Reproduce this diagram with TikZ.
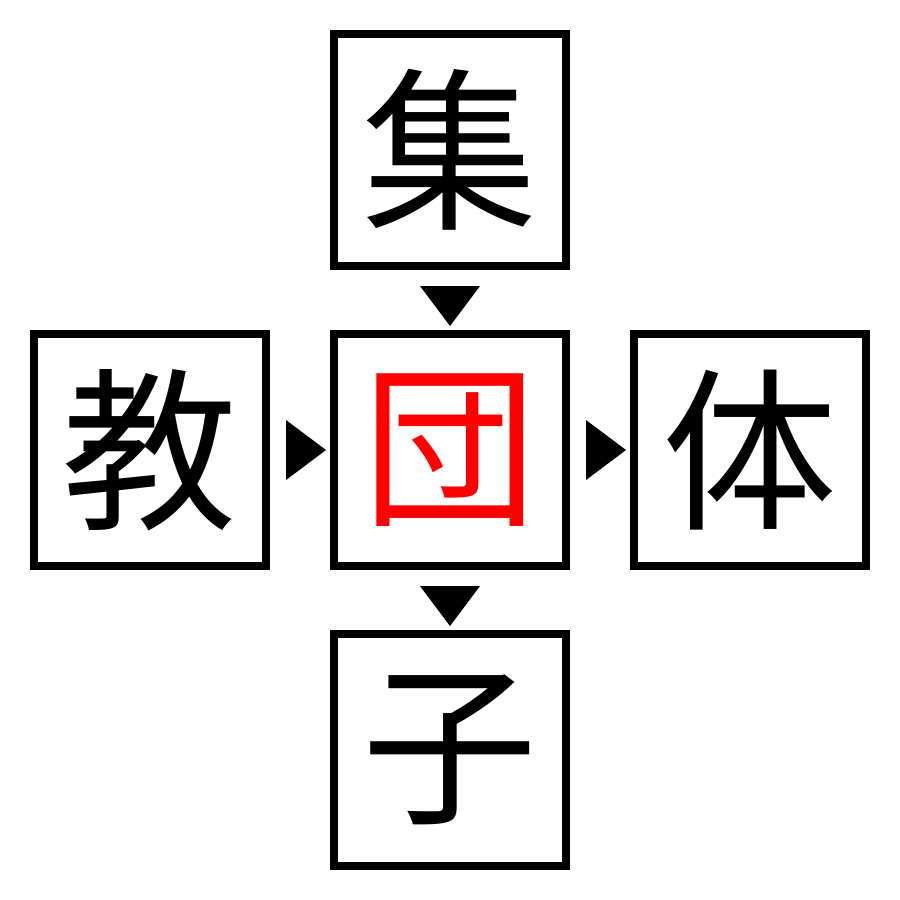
\documentclass[tikz,border=0pt]{standalone}
\usepackage{fontspec}
\newfontfamily\cjk{Noto Sans CJK JP}
\usetikzlibrary{calc}
\begin{document}
\begin{tikzpicture}[x=1pt,y=-1pt,
  kbox/.style={draw=black,line width=8pt,minimum size=232pt,inner sep=0pt,font=\cjk\fontsize{175}{175}\selectfont},
  tri/.style={fill=black}]
\useasboundingbox (0,0) rectangle (900,900);
\node[kbox] (t) at (450,150) {集};
\node[kbox] (l) at (150,450) {教};
\node[kbox,text=red] (c) at (450,450) {団};
\node[kbox] (r) at (750,450) {体};
\node[kbox] (b) at (450,750) {子};
\fill[tri] ($(t.south)+(-30,16)$) -- ($(t.south)+(30,16)$) -- ($(t.south)+(0,56)$) -- cycle;
\fill[tri] ($(c.south)+(-30,16)$) -- ($(c.south)+(30,16)$) -- ($(c.south)+(0,56)$) -- cycle;
\fill[tri] ($(l.east)+(16,-30)$) -- ($(l.east)+(16,30)$) -- ($(l.east)+(56,0)$) -- cycle;
\fill[tri] ($(c.east)+(16,-30)$) -- ($(c.east)+(16,30)$) -- ($(c.east)+(56,0)$) -- cycle;
\end{tikzpicture}
\end{document}
